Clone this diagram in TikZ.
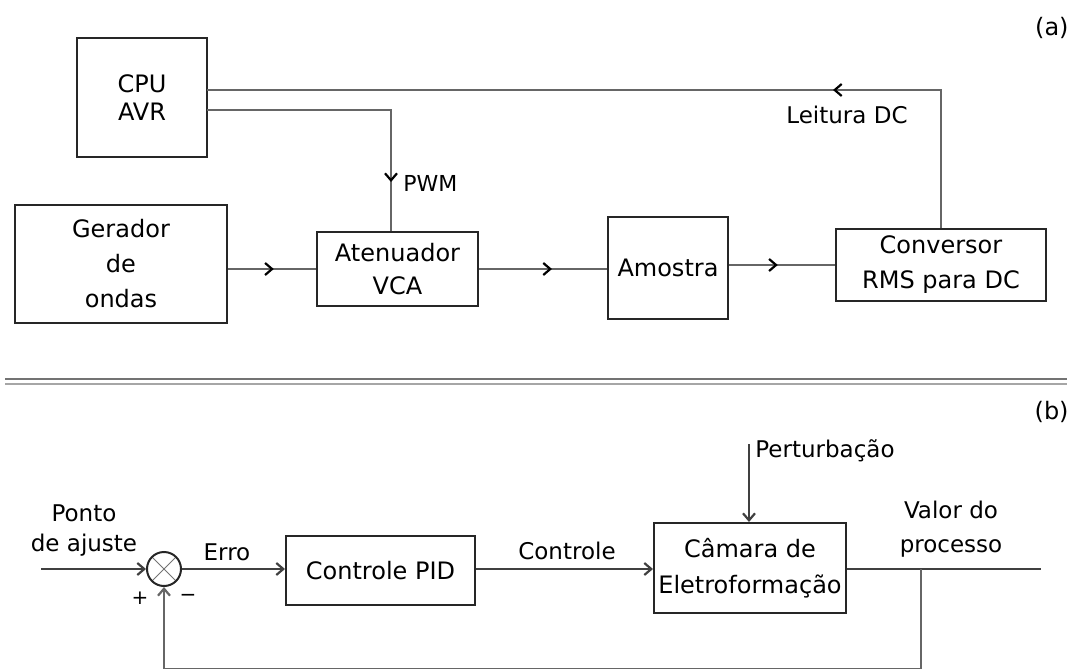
\documentclass[tikz,border=0pt]{standalone}
\usepackage{fontspec}
\setmainfont{DejaVu Sans}
\usetikzlibrary{arrows.meta,decorations.markings}
\tikzset{
  blk/.style={draw=black!85,line width=1pt,inner sep=0pt,align=center,
    font={\fontsize{12}{#1}\selectfont}},
  conn/.style={draw=black!60,line width=0.6pt},
  conn2/.style={draw=black!75,line width=0.6pt},
  tip/.style={-{Straight Barb[length=3.5pt,width=6pt,line width=1.1pt]}},
  midarr/.style={postaction={decorate,decoration={markings,
    mark=at position #1 with {\arrow[black,line width=1.1pt]{Straight Barb[length=3.5pt,width=6pt]}}}}},
  lbl/.style={inner sep=0pt,font={\fontsize{11.5}{17}\selectfont},align=center},
}
\begin{document}
\begin{tikzpicture}[x=0.5pt,y=-0.5pt]
\useasboundingbox (0,0) rectangle (1067,669);
% ---------- (a)
\node[lbl,anchor=east,font={\fontsize{12}{14}\selectfont}] (la) at (1069,28) {(a)};
\node[blk=14,minimum width=65pt,minimum height=59.5pt] (cpu) at (142,97.5) {CPU\\AVR};
\node[blk=17.5,minimum width=106pt,minimum height=59pt] (ger) at (121,264) {Gerador\\de\\ondas};
\node[blk=16.5,minimum width=80.5pt,minimum height=37pt] (att) at (397.5,269) {Atenuador\\VCA};
\node[blk=14,minimum width=60pt,minimum height=51pt] (amo) at (668,268) {Amostra};
\node[blk=17.5,minimum width=105pt,minimum height=36pt] (conv) at (941,265) {Conversor\\RMS para DC};
\coordinate (cpuA) at (207,90);
\coordinate (cpuB) at (207,110);
\coordinate (pwmc) at (391,110);
\draw[conn,midarr=123pt] (conv.north) |- (cpuA);
\node[lbl] (ldc) at (847,115) {Leitura DC};
\draw[conn,midarr=128pt] (cpuB) -- (pwmc) -- (pwmc|-att.north);
\node[lbl,anchor=west,font={\fontsize{11}{13}\selectfont}] (pwm) at (403,183) {PWM};
\draw[conn,midarr=0.52] (ger.east|-att.west) -- (att.west);
\draw[conn,midarr=0.57] (att.east) -- (amo.west|-att.east);
\draw[conn,midarr=0.46] (amo.east|-conv.west) -- (conv.west);
% ---------- separator
\coordinate (s1) at (5,379);
\coordinate (s2) at (1067,379);
\coordinate (s3) at (5,384);
\coordinate (s4) at (1067,384);
\draw[black!55,line width=1pt] (s1) -- (s2);
\draw[black!35,line width=1pt] (s3) -- (s4);
% ---------- (b)
\node[lbl,anchor=east,font={\fontsize{12}{14}\selectfont}] (lb) at (1069,412) {(b)};
\node[circle,draw=black!85,line width=1pt,minimum size=17pt,inner sep=0pt,
  path picture={\draw[black!55,line width=0.5pt]
    (path picture bounding box.south west) -- (path picture bounding box.north east)
    (path picture bounding box.north west) -- (path picture bounding box.south east);}]
  (sum) at (164,569) {};
\node[blk=14,minimum width=94.5pt,minimum height=34.5pt] (pid) at (380.5,570.5) {Controle PID};
\node[blk=18,minimum width=96pt,minimum height=45pt] (cam) at (750,568) {Câmara de\\Eletroformação};
\coordinate (in) at (41,569);
\coordinate (dist) at (749,444);
\coordinate (out) at (1041,569);
\coordinate (br) at (921,569);
\coordinate (fb) at (921,669);
\draw[conn2,tip] (in) -- (sum.west);
\draw[conn2,tip] (sum.east) -- (pid.west|-sum.east);
\draw[conn2,tip] (pid.east|-sum.east) -- (cam.west|-sum.east);
\draw[conn2,tip] (dist) -- (dist|-cam.north);
\draw[conn2] (cam.east|-sum.east) -- (out);
\draw[conn,tip] (br) -- (fb) -| (sum.south);
\node[lbl,font={\fontsize{11.5}{15}\selectfont}] (sp) at (84,531) {Ponto\\de ajuste};
\node[lbl] (err) at (227,552) {Erro};
\node[lbl] (ctl) at (567,551) {Controle};
\node[lbl,anchor=west] (pert) at (755,451) {Perturbação};
\node[lbl] (pv) at (951,529) {Valor do\\processo};
\node[lbl,font={\fontsize{10}{12}\selectfont}] (plus) at (140,598) {+};
\node[lbl,font={\fontsize{10}{12}\selectfont}] (minus) at (188,598) {−};
\end{tikzpicture}
\end{document}
